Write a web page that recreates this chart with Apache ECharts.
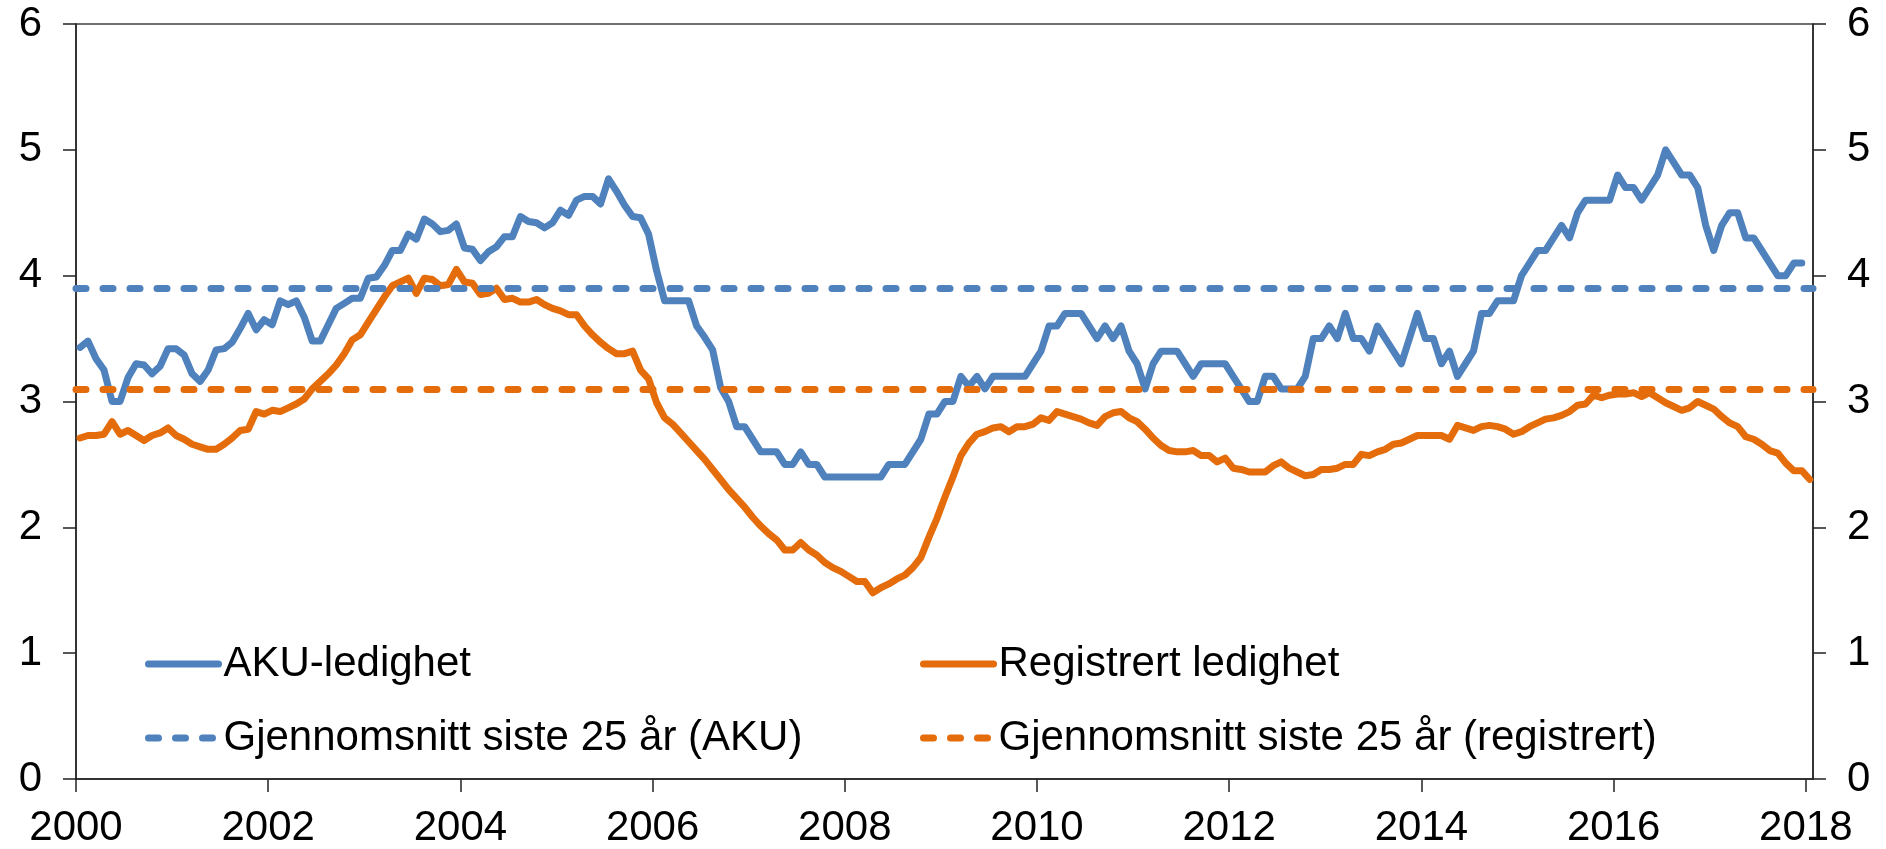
<!DOCTYPE html>
<html>
<head>
<meta charset="utf-8">
<script src="https://cdn.jsdelivr.net/npm/echarts@6/dist/echarts.min.js"></script>
<style>
  html, body { margin: 0; padding: 0; background: #fff; }
  #container { width: 1886px; height: 849px; }
</style>
</head>
<body>
<div id="container"></div>
<script>
// månedlige tall fra jan 2000
var startYear = 2000;

var akuLedighet = [
  3.43, 3.48, 3.34, 3.25, 3.00, 3.00, 3.19, 3.30, 3.29, 3.22, 3.28, 3.42,
  3.42, 3.37, 3.22, 3.16, 3.25, 3.41, 3.42, 3.47, 3.58, 3.70, 3.57, 3.65,
  3.61, 3.80, 3.77, 3.80, 3.67, 3.48, 3.48, 3.61, 3.74, 3.78, 3.82, 3.82,
  3.98, 3.99, 4.08, 4.20, 4.20, 4.33, 4.29, 4.45, 4.41, 4.35, 4.36, 4.41,
  4.22, 4.21, 4.12, 4.19, 4.23, 4.31, 4.31, 4.47, 4.43, 4.42, 4.38, 4.42,
  4.52, 4.48, 4.60, 4.63, 4.63, 4.57, 4.77, 4.67, 4.56, 4.47, 4.46, 4.33,
  4.04, 3.80, 3.80, 3.80, 3.80, 3.60, 3.51, 3.41, 3.11, 3.00, 2.80, 2.80,
  2.70, 2.60, 2.60, 2.60, 2.50, 2.50, 2.60, 2.50, 2.50, 2.40, 2.40, 2.40,
  2.40, 2.40, 2.40, 2.40, 2.40, 2.50, 2.50, 2.50, 2.60, 2.70, 2.90, 2.90,
  3.00, 3.00, 3.20, 3.12, 3.20, 3.10, 3.20, 3.20, 3.20, 3.20, 3.20, 3.30,
  3.40, 3.60, 3.60, 3.70, 3.70, 3.70, 3.60, 3.50, 3.60, 3.50, 3.60, 3.40,
  3.30, 3.10, 3.30, 3.40, 3.40, 3.40, 3.30, 3.20, 3.30, 3.30, 3.30, 3.30,
  3.20, 3.10, 3.00, 3.00, 3.20, 3.20, 3.10, 3.10, 3.10, 3.20, 3.50, 3.50,
  3.60, 3.50, 3.70, 3.50, 3.50, 3.40, 3.60, 3.50, 3.40, 3.30, 3.50, 3.70,
  3.50, 3.50, 3.30, 3.40, 3.20, 3.30, 3.40, 3.70, 3.70, 3.80, 3.80, 3.80,
  4.00, 4.10, 4.20, 4.20, 4.30, 4.40, 4.30, 4.50, 4.60, 4.60, 4.60, 4.60,
  4.80, 4.70, 4.70, 4.60, 4.70, 4.80, 5.00, 4.90, 4.80, 4.80, 4.70, 4.40,
  4.20, 4.40, 4.50, 4.50, 4.30, 4.30, 4.20, 4.10, 4.00, 4.00, 4.10, 4.10
];

var registrertLedighet = [
  2.71, 2.73, 2.73, 2.74, 2.84, 2.74, 2.77, 2.73, 2.69, 2.73, 2.75, 2.79,
  2.73, 2.70, 2.66, 2.64, 2.62, 2.62, 2.66, 2.71, 2.77, 2.78, 2.92, 2.90,
  2.93, 2.92, 2.95, 2.98, 3.02, 3.10, 3.16, 3.22, 3.29, 3.38, 3.49, 3.53,
  3.63, 3.73, 3.83, 3.92, 3.95, 3.98, 3.86, 3.98, 3.97, 3.92, 3.93, 4.05,
  3.95, 3.94, 3.85, 3.86, 3.90, 3.81, 3.82, 3.79, 3.79, 3.81, 3.77, 3.74,
  3.72, 3.69, 3.69, 3.60, 3.53, 3.47, 3.42, 3.38, 3.38, 3.40, 3.25, 3.18,
  2.99, 2.87, 2.82, 2.75, 2.68, 2.61, 2.54, 2.46, 2.38, 2.30, 2.23, 2.16,
  2.08, 2.01, 1.95, 1.90, 1.82, 1.82, 1.88, 1.82, 1.78, 1.72, 1.68, 1.65,
  1.61, 1.57, 1.57, 1.48, 1.52, 1.55, 1.59, 1.62, 1.68, 1.76, 1.92, 2.07,
  2.24, 2.40, 2.57, 2.67, 2.74, 2.76, 2.79, 2.80, 2.76, 2.80, 2.80, 2.82,
  2.87, 2.85, 2.92, 2.90, 2.88, 2.86, 2.83, 2.81, 2.88, 2.91, 2.92, 2.87,
  2.84, 2.78, 2.71, 2.65, 2.61, 2.60, 2.60, 2.61, 2.57, 2.57, 2.52, 2.55,
  2.47, 2.46, 2.44, 2.44, 2.44, 2.49, 2.52, 2.47, 2.44, 2.41, 2.42, 2.46,
  2.46, 2.47, 2.50, 2.50, 2.58, 2.57, 2.60, 2.62, 2.66, 2.67, 2.70, 2.73,
  2.73, 2.73, 2.73, 2.70, 2.81, 2.79, 2.77, 2.80, 2.81, 2.80, 2.78, 2.74,
  2.76, 2.80, 2.83, 2.86, 2.87, 2.89, 2.92, 2.97, 2.98, 3.05, 3.03, 3.05,
  3.06, 3.06, 3.07, 3.04, 3.07, 3.03, 2.99, 2.96, 2.93, 2.95, 3.00, 2.97,
  2.94, 2.88, 2.83, 2.80, 2.72, 2.70, 2.66, 2.61, 2.59, 2.51, 2.45, 2.45,
  2.38
];

var snittAku = 3.9;        // gjennomsnitt siste 25 år (AKU)
var snittRegistrert = 3.1; // gjennomsnitt siste 25 år (registrert)

var xTicks = [2000, 2002, 2004, 2006, 2008, 2010, 2012, 2014, 2016, 2018];
var yTicks = [0, 1, 2, 3, 4, 5, 6];

var blue = '#4F81BD';
var orange = '#E46C0A';
var font = 'Liberation Sans, Arial, sans-serif';
var lineW = 7;
var dash = [10, 17];

// midt i måneden på en årsakse
function toPoints(values) {
  return values.map(function (v, i) {
    return [startYear + (i + 0.5) / 12, v];
  });
}

var dom = document.getElementById('container');
var myChart = echarts.init(dom, null, { renderer: 'canvas' });

function yAxisDef(pos) {
  return {
    type: 'value',
    position: pos,
    min: yTicks[0],
    max: yTicks[yTicks.length - 1],
    interval: 1,
    axisLine: { show: true, lineStyle: { color: '#222', width: 1.5 } },
    axisTick: { show: true, inside: false, length: 13, lineStyle: { color: '#222', width: 1.5 } },
    axisLabel: { show: true, fontSize: 42, fontFamily: font, color: '#000', margin: 34 },
    splitLine: { show: false }
  };
}

var legendText = { fontSize: 42, fontFamily: font, color: '#000' };
// skjul sirkelen som linjeserier ellers får i forklaringen
var noSymbol = { color: 'rgba(0,0,0,0)', borderColor: 'rgba(0,0,0,0)', borderWidth: 0 };

var option = {
  animation: false,
  backgroundColor: '#fff',
  grid: {
    left: 76,
    right: 73,
    top: 24,
    bottom: 70,
    show: true,
    borderColor: '#404040',
    borderWidth: 1.5,
    containLabel: false,
    outerBoundsMode: 'none'
  },
  legend: [
    {
      data: ['AKU-ledighet', 'Gjennomsnitt siste 25 år (AKU)'],
      orient: 'vertical',
      left: 140,
      top: 638,
      itemWidth: 70,
      itemHeight: 20,
      itemGap: 32,
      itemStyle: noSymbol,
      lineStyle: { width: lineW },
      textStyle: legendText
    },
    {
      data: ['Registrert ledighet', 'Gjennomsnitt siste 25 år (registrert)'],
      orient: 'vertical',
      left: 915,
      top: 638,
      itemWidth: 70,
      itemHeight: 20,
      itemGap: 32,
      itemStyle: noSymbol,
      lineStyle: { width: lineW },
      textStyle: legendText
    }
  ],
  xAxis: {
    type: 'value',
    min: 2000,
    max: 2018.075,
    interval: 2,
    axisLine: { show: true, onZero: false, lineStyle: { color: '#222', width: 1.5 } },
    axisTick: { show: true, inside: false, length: 13, customValues: xTicks, lineStyle: { color: '#222', width: 1.5 } },
    axisLabel: {
      show: true,
      customValues: xTicks,
      fontSize: 42,
      fontFamily: font,
      color: '#000',
      margin: 28,
      formatter: function (v) { return String(Math.round(v)); }
    },
    splitLine: { show: false }
  },
  yAxis: [yAxisDef('left'), yAxisDef('right')],
  series: [
    {
      name: 'AKU-ledighet',
      type: 'line',
      symbol: 'none',
      data: toPoints(akuLedighet),
      itemStyle: { color: blue },
      lineStyle: { color: blue, width: lineW, cap: 'round', join: 'round' }
    },
    {
      name: 'Registrert ledighet',
      type: 'line',
      symbol: 'none',
      data: toPoints(registrertLedighet),
      itemStyle: { color: orange },
      lineStyle: { color: orange, width: lineW, cap: 'round', join: 'round' }
    },
    {
      name: 'Gjennomsnitt siste 25 år (AKU)',
      type: 'line',
      symbol: 'none',
      data: [],
      itemStyle: { color: blue },
      lineStyle: { color: blue, width: lineW, type: dash, cap: 'round' },
      markLine: {
        silent: true,
        symbol: ['none', 'none'],
        label: { show: false },
        lineStyle: { color: blue, width: lineW, type: dash, cap: 'round' },
        data: [{ yAxis: snittAku }]
      }
    },
    {
      name: 'Gjennomsnitt siste 25 år (registrert)',
      type: 'line',
      symbol: 'none',
      data: [],
      itemStyle: { color: orange },
      lineStyle: { color: orange, width: lineW, type: dash, cap: 'round' },
      markLine: {
        silent: true,
        symbol: ['none', 'none'],
        label: { show: false },
        lineStyle: { color: orange, width: lineW, type: dash, cap: 'round' },
        data: [{ yAxis: snittRegistrert }]
      }
    }
  ]
};

if (option && typeof option === 'object') {
  myChart.setOption(option);
}
</script>
</body>
</html>
